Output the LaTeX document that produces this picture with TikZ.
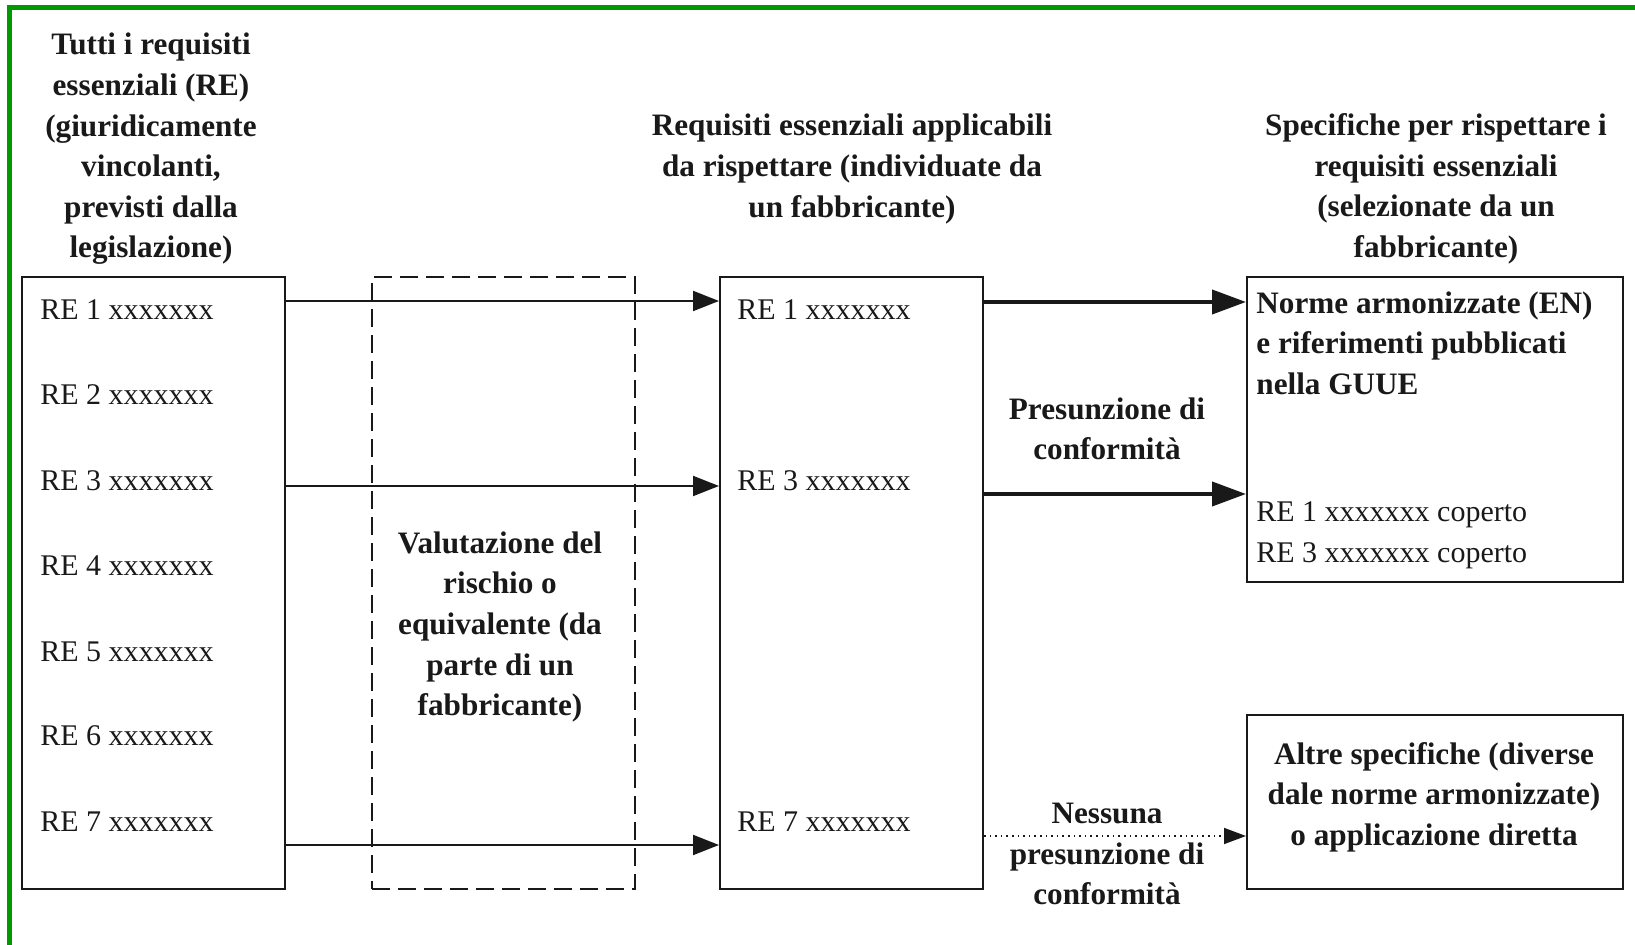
\documentclass[tikz,border=0pt]{standalone}
\usepackage{fontspec}
\setmainfont{Liberation Serif}
\usetikzlibrary{arrows.meta}
\definecolor{framegreen}{RGB}{0,153,0}
\definecolor{ink}{RGB}{25,25,25}
\begin{document}
\begin{tikzpicture}[x=0.5pt,y=-0.5pt,
  box/.style={draw=ink, line width=1pt, inner sep=0pt, anchor=north west},
  dbox/.style={draw=ink, line width=1pt, dash pattern=on 9pt off 4pt, inner sep=0pt, anchor=north west},
  reg/.style={font=\fontsize{15}{20.3}\selectfont, text=ink, inner sep=0pt},
  hd/.style={font=\bfseries\fontsize{15.6}{20.3}\selectfont, text=ink, inner sep=0pt, align=center},
  thinarr/.style={draw=ink, line width=1pt, -{Triangle[length=13pt,width=10pt]}},
  thickarr/.style={draw=ink, line width=2pt, -{Triangle[length=17pt,width=12pt]}},
  dotarr/.style={draw=ink, line width=0.8pt, dotted, -{Triangle[length=11pt,width=8pt]}},
]
\useasboundingbox (0,0) rectangle (1635,945);
\draw[framegreen, line width=2.5pt] (9.5,945) -- (9.5,7.5) -- (1635,7.5);

% boxes
\node[box, minimum width=131.5pt, minimum height=306pt] (L) at (21,276) {};
\node[dbox, minimum width=131.5pt, minimum height=306pt] (D) at (371,276) {};
\node[box, minimum width=131.5pt, minimum height=306pt] (M) at (719,276) {};
\node[box, minimum width=188pt, minimum height=152.5pt] (N) at (1246,276) {};
\node[box, minimum width=188pt, minimum height=87pt] (A) at (1246,714) {};

% headers
\node[hd] (h1) at (151,149) {Tutti i requisiti\\essenziali (RE)\\(giuridicamente\\vincolanti,\\previsti dalla\\legislazione)};
\node[hd] (h2) at (852,169) {Requisiti essenziali applicabili\\da rispettare (individuate da\\un fabbricante)};
\node[hd] (h3) at (1436,189) {Specifiche per rispettare i\\requisiti essenziali\\(selezionate da un\\fabbricante)};

% left box items
\node[reg, anchor=west] (r1) at (40,310) {RE 1 xxxxxxx};
\node[reg, anchor=west] (r2) at (40,395) {RE 2 xxxxxxx};
\node[reg, anchor=west] (r3) at (40,481) {RE 3 xxxxxxx};
\node[reg, anchor=west] (r4) at (40,566) {RE 4 xxxxxxx};
\node[reg, anchor=west] (r5) at (40,652) {RE 5 xxxxxxx};
\node[reg, anchor=west] (r6) at (40,736) {RE 6 xxxxxxx};
\node[reg, anchor=west] (r7) at (40,822) {RE 7 xxxxxxx};

% middle box items
\node[reg, anchor=west] (m1) at (737,310) {RE 1 xxxxxxx};
\node[reg, anchor=west] (m3) at (737,481) {RE 3 xxxxxxx};
\node[reg, anchor=west] (m7) at (737,822) {RE 7 xxxxxxx};

% dashed box text
\node[hd] (dt) at (500,627) {Valutazione del\\rischio o\\equivalente (da\\parte di un\\fabbricante)};

% right top box text
\node[hd, align=left, anchor=west] (nt) at (1256,343) {Norme armonizzate (EN)\\e riferimenti pubblicati\\nella GUUE};
\node[reg, align=left, anchor=west] (ct) at (1256,535) {RE 1 xxxxxxx coperto\\RE 3 xxxxxxx coperto};

% right bottom box text
\node[hd] (at) at (1434,797) {Altre specifiche (diverse\\dale norme armonizzate)\\o applicazione diretta};

% arrow labels
\node[hd] (pc) at (1107,429) {Presunzione di\\conformità};
\node[hd] (np) at (1107,854) {Nessuna\\presunzione di\\conformità};

% connectors
\draw[thinarr] (L.east |- 0,301) -- (M.west |- 0,301);
\draw[thinarr] (L.east |- 0,486) -- (M.west |- 0,486);
\draw[thinarr] (L.east |- 0,845) -- (M.west |- 0,845);
\draw[thickarr] (M.east |- 0,302) -- (N.west |- 0,302);
\draw[thickarr] (M.east |- 0,494) -- (N.west |- 0,494);
\draw[dotarr] (M.east |- 0,836) -- (A.west |- 0,836);
\end{tikzpicture}
\end{document}
